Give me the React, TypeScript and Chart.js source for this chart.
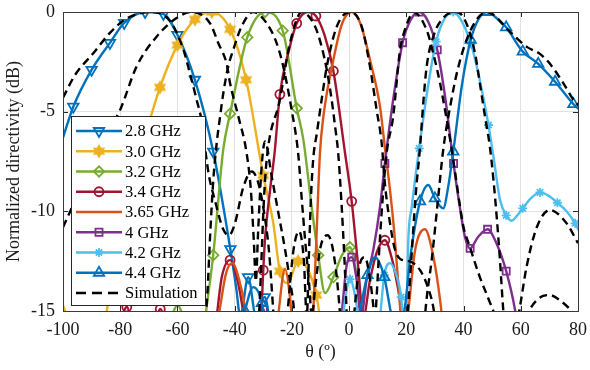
import React, { useEffect, useRef } from 'react';
import { Chart, registerables } from 'chart.js';

Chart.register(...registerables);

// ---------- tick labels ----------
const X_TICKS = [-100, -80, -60, -40, -20, 0, 20, 40, 60, 80];
const Y_TICKS = [0, -5, -10, -15];
const X_TITLE = 'θ (º)';
const Y_TITLE = 'Normalized directivity (dB)';
const SIM_LABEL = 'Simulation';

// ---------- measured series: [theta (deg), dB] ----------
const meas28 = [[-100, -6.3], [-96.4, -4.75], [-90, -2.9], [-83.6, -1.55], [-78.6, -0.55], [-71.3, 0], [-64.9, -0.1], [-60, -1.15], [-53.9, -3.4], [-47.5, -7.0], [-41.5, -11.9], [-39.5, -13.8], [-38, -15.3], [-35.3, -13.3], [-32.5, -15.3], [-29.5, -14.3], [-27, -16.5], [-25, -19]];
const mark28 = [-96.4, -90, -83.6, -78.6, -71.3, -64.9, -60, -53.9, -47.5, -41.5, -35.3, -29.5];

const meas30 = [[-100, -14.7], [-97.5, -15.8], [-92, -17.5], [-86, -16], [-82, -12.5], [-78, -9.8], [-72, -6.6], [-66.1, -3.78], [-60, -1.66], [-53.9, -0.37], [-48, 0], [-41.6, -0.87], [-36, -3.4], [-30, -8.2], [-26.5, -10.6], [-24.2, -13.0], [-21.5, -13.6], [-17.8, -12.5], [-14.5, -12.9], [-11.5, -14.2], [-10, -15.5], [-8, -18]];
const mark30 = [-78, -72, -66.1, -60, -53.9, -48, -41.6, -36, -30, -24.2, -17.8, -11.5];

const meas32 = [[-66, -17.5], [-62, -15.3], [-60, -14.7], [-57.5, -15.5], [-53.5, -17.5], [-51, -16.2], [-49.8, -14.8], [-47.5, -12.2], [-44, -6.9], [-41.6, -5.1], [-35.6, -1.27], [-29.4, 0], [-23.2, -0.94], [-18.3, -4.83], [-16, -6.4], [-13.1, -9.77], [-10.8, -12.2], [-8.4, -14.1], [-5.5, -13.3], [-2.5, -12.2], [0.3, -11.8], [3, -13.5], [5, -15.5], [7, -18]];
const mark32 = [-47.5, -41.6, -35.6, -29.4, -23.2, -18.3, -10.8, -5.5, 0.3];

const meas34 = [[-82, -17], [-77.7, -14.8], [-74, -17], [-69, -16.5], [-66, -14.9], [-63, -16.5], [-55, -19], [-47, -16], [-44.5, -13.3], [-41.6, -12.45], [-38.8, -13.6], [-36.5, -15.5], [-34, -18], [-31.8, -16.5], [-30.6, -14.8], [-30, -12.95], [-29.4, -11.4], [-27.6, -8.9], [-26, -7.0], [-24.2, -4.13], [-21, -1.9], [-18.3, -0.57], [-14.5, 0], [-11.6, -0.2], [-8.5, -1.2], [-5.5, -2.96], [-1.4, -7.1], [0.9, -9.5], [3, -12.5], [5, -15.3], [7.3, -13.45], [9.8, -12.0], [12.5, -11.45], [15, -12.4], [17, -13.8], [19, -15.5], [22, -18]];
const mark34 = [-77.7, -66, -41.6, -30, -24.2, -18.3, -11.6, -5.5, 0.9, 12.5];

const meas365 = [[-47.5, -17], [-45.3, -15], [-43, -13.1], [-40.8, -12.6], [-38.5, -13.4], [-36.4, -14.8], [-34.5, -17], [-28, -19], [-25, -15.5], [-22.4, -12.9], [-19.8, -15.5], [-17.5, -19], [-14, -18.5], [-12.5, -15], [-11.5, -11.6], [-10.2, -7.1], [-9, -5.25], [-5.5, -2.4], [-2.5, -0.6], [0.9, 0], [4, -0.6], [7.3, -2.4], [10.8, -4.75], [12.5, -6.8], [14.5, -9.2], [16, -11.4], [17.8, -14.8], [19, -17], [20.7, -15], [23, -12], [26.5, -10.9], [29.5, -12.3], [31.8, -14.45], [33, -16]];
const mark365: number[] = [];

const meas40 = [[-33, -18], [-30, -14.9], [-27, -18], [-5, -18.5], [-2.5, -15], [-0.7, -12.6], [0.9, -12.3], [2.5, -13.3], [4.2, -15.3], [6.1, -13.45], [8.5, -11.9], [10.8, -9.77], [12.5, -7.6], [15.5, -4.3], [18.7, -1.54], [21.5, -0.4], [24.5, 0], [27.7, -0.5], [30.8, -1.9], [33.5, -4.2], [36.5, -7.6], [38.5, -9.6], [40.5, -11.3], [42.3, -11.86], [45, -11.3], [48.4, -10.9], [51.5, -11.6], [54.9, -13], [58, -14.95], [60, -17]];
const mark40 = [-30, 0.9, 12.5, 18.7, 24.5, 30.8, 36.5, 42.3, 48.4, 54.9];

const meas42 = [[-6, -18], [-2.5, -15.5], [0.3, -13.4], [3.5, -15.5], [6, -18], [9, -17], [10.8, -15.3], [12.3, -13.2], [14.3, -12.6], [16.5, -13.2], [18.2, -14.3], [19.3, -16.2], [20.1, -14.8], [20.7, -11.4], [21.9, -9.77], [24.5, -6.84], [27.5, -3.8], [30.4, -1.49], [33.5, -0.3], [36.4, 0], [39.5, -0.5], [42.6, -1.6], [45.5, -3.3], [48.7, -5.67], [50.5, -7.3], [52.7, -9.4], [54.9, -10.2], [56.8, -10.47], [58.5, -10.25], [60.7, -9.85], [63.5, -9.35], [66.7, -9.05], [69.5, -9.2], [72.8, -9.57], [76, -10.0], [79, -10.6], [80.7, -11.1]];
const mark42 = [0.3, 12.3, 18.2, 24.5, 30.4, 36.4, 42.6, 48.7, 54.9, 60.7, 66.7, 72.8, 79];

const meas44 = [[-40, -17.5], [-36.4, -15], [-33.5, -13.8], [-30.5, -14.6], [-28, -17], [0, -18], [3.8, -15], [6.4, -13.2], [9, -12.3], [12.3, -13.3], [14.5, -15], [17, -16.5], [19.5, -14.8], [21.5, -12.2], [24.8, -9.5], [27.7, -8.68], [30, -9.35], [32.9, -9.85], [34.6, -8.8], [36.4, -7.0], [39.5, -3.6], [42.5, -1.4], [45.5, -0.3], [48.4, 0], [51.5, -0.3], [54.9, -0.77], [60.7, -1.99], [66.1, -2.6], [72, -3.5], [78.4, -4.62], [80.7, -4.92]];
const mark44 = [-36.4, -30.5, 6.4, 12.3, 24.8, 30, 36.4, 42.5, 48.4, 54.9, 60.7, 66.1, 72, 78.4];

// ---------- simulation series: [theta (deg), dB] ----------
const sim28 = [[-100, -4.3], [-95.8, -3.16], [-89.4, -2.07], [-83.6, -1.05], [-77.7, -0.32], [-69, 0], [-62.6, -0.45], [-58, -1.85], [-55.6, -3.1], [-53.3, -4.4], [-51.5, -5.5], [-50.2, -7.0], [-49, -8.2], [-47, -9.4], [-44, -10.9], [-42, -11.2], [-39.9, -10.6], [-37, -8.8], [-34, -8.0], [-31.7, -8.6], [-30, -9.8], [-28, -12], [-26.5, -15], [-25, -18]];
const sim30 = [[-100, -10.8], [-95, -9.2], [-90, -7.6], [-85, -6.2], [-80, -4.9], [-74.3, -2.74], [-67.3, -1.24], [-60.3, -0.3], [-55, 0], [-48.6, -0.57], [-45.7, -1.57], [-42.8, -2.6], [-41.6, -3.58], [-38.7, -5.25], [-35.8, -7.1], [-34.3, -9], [-33.3, -11.5], [-32.6, -13.5], [-31.8, -11], [-30.5, -7.6], [-29.4, -6.5], [-27, -8.3], [-24.7, -10.1], [-22.4, -11.9], [-20.7, -13.45], [-19.5, -14.6], [-18.3, -16.5]];
const sim32 = [[-53, -18], [-50.5, -16], [-49.5, -14], [-48.5, -11], [-47.5, -8.5], [-46.3, -6.6], [-45.1, -5.25], [-44, -4.1], [-42.2, -2.7], [-40.5, -1.9], [-37.5, -0.7], [-33.5, 0], [-28.8, -0.57], [-25.3, -1.57], [-23, -2.74], [-20.1, -4.9], [-17.8, -7.1], [-16.6, -9.3], [-15.4, -11.4], [-14, -13.6], [-13, -15.3], [-12, -14], [-10, -11.8], [-7.5, -11.2], [-5, -12.5], [-3, -15.5], [-2, -18]];
const sim34 = [[-32, -17], [-30.8, -13], [-29.8, -9.5], [-28.8, -7.4], [-24.2, -4.4], [-20.7, -1.57], [-16.5, 0], [-11.9, -0.73], [-9.6, -1.74], [-7.8, -2.9], [-6.1, -4.4], [-4.9, -5.75], [-3.8, -7.1], [-2.7, -9.5], [-1.6, -12.5], [-0.8, -15.2], [0, -17], [1.5, -15.5], [3.5, -12.8], [5.5, -12.3], [7.5, -13.6], [9, -15.5], [10, -17]];
const sim365 = [[-24, -18], [-21.5, -15], [-19.5, -12], [-17.5, -11.0], [-15.8, -12.5], [-14.8, -15.3], [-14, -12], [-13.3, -9.2], [-12.5, -7.3], [-11.3, -6.1], [-9.5, -4.3], [-7.8, -2.74], [-4.3, -0.73], [0.3, 0], [4.4, -0.73], [7.3, -2.74], [9.6, -4.9], [11.4, -6.6], [12.5, -8.6], [14.3, -10.6], [16, -11.9], [18, -12.4], [21, -12.5], [24.8, -12.95], [27.5, -13.8], [29.4, -14.8], [31, -16.5]];
const sim40 = [[5, -18], [8, -16.5], [9.3, -15], [10.3, -12.5], [11.5, -9.8], [13.1, -7.1], [15.4, -5.25], [17.8, -1.9], [19.5, -0.9], [21.3, -0.23], [22.4, 0], [27.1, -0.9], [29.4, -2.07], [31.8, -3.58], [33.5, -4.9], [35.3, -6.4], [37, -8], [38.5, -9.5], [40, -10.8], [42, -11.7], [45.7, -13.3], [49, -14.5], [51, -15.3], [53, -17], [58, -17.5], [62, -15.3], [66, -14.4], [70, -14.2], [74, -14.5], [79, -15.2], [80, -15.4]];
const sim42 = [[19, -17], [20.5, -15], [21.7, -12.5], [23.2, -9.3], [24.8, -6.76], [26, -4.42], [27.1, -2.74], [29.4, -1.24], [32.9, -0.3], [37.6, 0], [41, -0.57], [44, -2.07], [45.7, -3.58], [47.5, -5.25], [49.2, -6.76], [50.5, -8.5], [51.6, -10.3], [52.7, -12.4], [53.9, -15], [55.5, -17.5], [57.5, -16.5], [59.7, -14.8], [62, -12.8], [65.6, -10.8], [70.2, -9.93], [76, -10.6], [80, -11.6]];
const sim44 = [[25.5, -17], [27, -14.5], [28.9, -12.4], [31, -9.5], [32.9, -6.9], [35.5, -4.6], [38.2, -2.74], [42.5, -0.9], [48.1, 0], [56.2, -0.99], [62.1, -1.75], [66.7, -2.1], [70.2, -2.6], [74.9, -3.58], [78.4, -4.4], [80.7, -4.75]];

const SIMS = [sim28, sim30, sim32, sim34, sim365, sim40, sim42, sim44];

const FONT = '"Liberation Serif", "Times New Roman", Times, serif';
const TEXT = '#1a1a1a';

type Series = { label: string; data: number[][]; marks: number[]; color: string; kind: string; rot: number; r: number };

const SERIES: Series[] = [
  { label: '2.8 GHz', data: meas28, marks: mark28, color: '#0072BD', kind: 'triangle', rot: 180, r: 6 },
  { label: '3.0 GHz', data: meas30, marks: mark30, color: '#EDB120', kind: 'hexagram', rot: 0, r: 6 },
  { label: '3.2 GHz', data: meas32, marks: mark32, color: '#77AC30', kind: 'rectRot', rot: 0, r: 5.2 },
  { label: '3.4 GHz', data: meas34, marks: mark34, color: '#A2142F', kind: 'circle', rot: 0, r: 4.5 },
  { label: '3.65 GHz', data: meas365, marks: mark365, color: '#D95319', kind: 'none', rot: 0, r: 0 },
  { label: '4 GHz', data: meas40, marks: mark40, color: '#7E2F8E', kind: 'rect', rot: 0, r: 5 },
  { label: '4.2 GHz', data: meas42, marks: mark42, color: '#4DBEEE', kind: 'star', rot: 0, r: 4.5 },
  { label: '4.4 GHz', data: meas44, marks: mark44, color: '#0072BD', kind: 'triangle', rot: 0, r: 6 },
];

const toXY = (a: number[][]) => a.map(([x, y]) => ({ x, y }));

function makeHexagram(color: string, r: number): HTMLCanvasElement {
  const s = Math.ceil(r * 2 + 4);
  const c = document.createElement('canvas');
  c.width = s;
  c.height = s;
  const g = c.getContext('2d')!;
  g.translate(s / 2, s / 2);
  g.beginPath();
  for (let i = 0; i < 12; i++) {
    const rr = i % 2 === 0 ? r : r * 0.577;
    const a = -Math.PI / 2 + (i * Math.PI) / 6;
    if (i === 0) g.moveTo(rr * Math.cos(a), rr * Math.sin(a));
    else g.lineTo(rr * Math.cos(a), rr * Math.sin(a));
  }
  g.closePath();
  g.fillStyle = color;
  g.fill();
  g.lineWidth = 1.2;
  g.strokeStyle = color;
  g.stroke();
  return c;
}

function drawMarker(ctx: CanvasRenderingContext2D, s: Series, x: number, y: number, img: HTMLCanvasElement) {
  if (s.kind === 'none') return;
  ctx.save();
  ctx.setLineDash([]);
  ctx.strokeStyle = s.color;
  ctx.lineWidth = 1.8;
  if (s.kind === 'hexagram') {
    ctx.drawImage(img, x - img.width / 2, y - img.height / 2);
    ctx.restore();
    return;
  }
  const r = s.r;
  ctx.beginPath();
  if (s.kind === 'triangle') {
    let a = (s.rot * Math.PI) / 180;
    for (let k = 0; k < 3; k++) {
      const px = x + Math.sin(a) * r;
      const py = y - Math.cos(a) * r;
      if (k === 0) ctx.moveTo(px, py);
      else ctx.lineTo(px, py);
      a += (2 * Math.PI) / 3;
    }
    ctx.closePath();
  } else if (s.kind === 'circle') {
    ctx.arc(x, y, r, 0, Math.PI * 2);
  } else if (s.kind === 'rectRot') {
    ctx.moveTo(x - r, y);
    ctx.lineTo(x, y - r);
    ctx.lineTo(x + r, y);
    ctx.lineTo(x, y + r);
    ctx.closePath();
  } else if (s.kind === 'rect') {
    const h = r * Math.SQRT1_2;
    ctx.rect(x - h, y - h, 2 * h, 2 * h);
  } else if (s.kind === 'star') {
    for (let k = 0; k < 4; k++) {
      const a = (k * Math.PI) / 4;
      ctx.moveTo(x - Math.cos(a) * r, y - Math.sin(a) * r);
      ctx.lineTo(x + Math.cos(a) * r, y + Math.sin(a) * r);
    }
  }
  ctx.stroke();
  ctx.restore();
}

export default function App() {
  const ref = useRef<HTMLCanvasElement | null>(null);

  useEffect(() => {
    document.body.style.margin = '0';
    const canvas = ref.current;
    if (!canvas) return;
    const hexImg = makeHexagram('#EDB120', 6);

    const simSets = SIMS.map((s) => ({
      label: SIM_LABEL,
      data: toXY(s),
      borderColor: '#000000',
      backgroundColor: '#000000',
      borderWidth: 2.4,
      borderDash: [8, 5],
      pointRadius: 0,
      cubicInterpolationMode: 'monotone' as const,
      fill: false,
    }));

    const measSets = [...SERIES].reverse().map((s) => ({
      label: s.label,
      data: toXY(s.data),
      borderColor: s.color,
      backgroundColor: s.color,
      borderWidth: 2.4,
      pointStyle: (s.kind === 'hexagram' ? hexImg : s.kind === 'none' ? 'circle' : s.kind) as any,
      pointRotation: s.rot,
      pointRadius: (c: any) => {
        const raw = c && c.raw;
        if (!raw) return 0;
        return s.marks.some((m) => Math.abs(m - raw.x) < 1e-6) ? s.r : 0;
      },
      pointBorderColor: s.color,
      pointBackgroundColor: 'rgba(255,255,255,0)',
      pointBorderWidth: 1.8,
      cubicInterpolationMode: 'monotone' as const,
      fill: false,
    }));

    const framePlugin = {
      id: 'frameAndLegend',
      afterDraw(chart: any) {
        const { ctx, chartArea: ca, scales } = chart;
        ctx.save();
        // inward tick marks
        ctx.strokeStyle = '#262626';
        ctx.lineWidth = 1;
        ctx.setLineDash([]);
        ctx.beginPath();
        X_TICKS.forEach((v) => {
          const px = Math.round(scales.x.getPixelForValue(v)) + 0.5;
          ctx.moveTo(px, ca.bottom);
          ctx.lineTo(px, ca.bottom - 5);
          ctx.moveTo(px, ca.top);
          ctx.lineTo(px, ca.top + 5);
        });
        Y_TICKS.forEach((v) => {
          const py = Math.round(scales.y.getPixelForValue(v)) + 0.5;
          ctx.moveTo(ca.left, py);
          ctx.lineTo(ca.left + 5, py);
          ctx.moveTo(ca.right, py);
          ctx.lineTo(ca.right - 5, py);
        });
        ctx.stroke();
        // axes box
        ctx.strokeStyle = '#3a3a3a';
        ctx.strokeRect(Math.round(ca.left) + 0.5, Math.round(ca.top) + 0.5, Math.round(ca.right - ca.left), Math.round(ca.bottom - ca.top));

        // legend
        const lx = Math.round(ca.left) + 8;
        const bw = 134;
        const bh = 189;
        const ty = Math.round(ca.bottom) - 6 - bh;
        ctx.fillStyle = '#ffffff';
        ctx.fillRect(lx, ty, bw, bh);
        ctx.strokeStyle = '#262626';
        ctx.lineWidth = 1;
        ctx.strokeRect(lx + 0.5, ty + 0.5, bw, bh);
        ctx.font = `16.5px ${FONT}`;
        ctx.textBaseline = 'middle';
        ctx.textAlign = 'left';
        const rows = SERIES.length + 1;
        for (let i = 0; i < rows; i++) {
          const cy = ty + 15 + i * 20.25;
          const x1 = lx + 5;
          const x2 = lx + 51;
          ctx.save();
          if (i < SERIES.length) {
            const s = SERIES[i];
            ctx.strokeStyle = s.color;
            ctx.lineWidth = 2.4;
            ctx.setLineDash([]);
            ctx.beginPath();
            ctx.moveTo(x1, cy);
            ctx.lineTo(x2, cy);
            ctx.stroke();
            drawMarker(ctx, s, (x1 + x2) / 2, cy, hexImg);
          } else {
            ctx.strokeStyle = '#000';
            ctx.lineWidth = 2.4;
            ctx.setLineDash([10, 6]);
            ctx.beginPath();
            ctx.moveTo(x1, cy);
            ctx.lineTo(x2, cy);
            ctx.stroke();
          }
          ctx.restore();
          ctx.fillStyle = '#000';
          ctx.fillText(i < SERIES.length ? SERIES[i].label : SIM_LABEL, lx + 54, cy + 1);
        }
        ctx.restore();
      },
    };

    const chart = new Chart(canvas, {
      type: 'line',
      data: { datasets: [...simSets, ...measSets] as any },
      options: {
        animation: false,
        responsive: false,
        events: [],
        layout: { padding: { top: 12, right: 12, left: 0, bottom: 0 } },
        plugins: { legend: { display: false }, tooltip: { enabled: false } },
        scales: {
          x: {
            type: 'linear',
            min: -100,
            max: 80,
            afterBuildTicks: (s: any) => {
              s.ticks = X_TICKS.map((v) => ({ value: v }));
            },
            afterFit: (s: any) => {
              s.height = 59;
              s.paddingLeft = 0;
              s.paddingRight = 0;
            },
            ticks: { font: { family: FONT, size: 18 }, color: TEXT, padding: 8, maxRotation: 0, autoSkip: false },
            grid: { color: '#e2e2e2', lineWidth: 1, drawTicks: false },
            border: { display: false },
            title: { display: true, text: X_TITLE, font: { family: FONT, size: 18 }, color: TEXT, padding: { top: 0, bottom: 7 } },
          },
          y: {
            type: 'linear',
            min: -15,
            max: 0,
            afterBuildTicks: (s: any) => {
              s.ticks = Y_TICKS.map((v) => ({ value: v }));
            },
            afterFit: (s: any) => {
              s.width = 63;
              s.paddingTop = 0;
              s.paddingBottom = 0;
            },
            ticks: { font: { family: FONT, size: 18 }, color: TEXT, padding: 8, autoSkip: false },
            grid: { color: '#e2e2e2', lineWidth: 1, drawTicks: false },
            border: { display: false },
            title: { display: true, text: Y_TITLE, font: { family: FONT, size: 18 }, color: TEXT, padding: { top: 3, bottom: 0 } },
          },
        },
      } as any,
      plugins: [framePlugin],
    });

    return () => chart.destroy();
  }, []);

  return (
    <div style={{ width: 590, height: 370, position: 'relative' }}>
      <canvas ref={ref} width={590} height={370} style={{ display: 'block', width: 590, height: 370 }} />
    </div>
  );
}
